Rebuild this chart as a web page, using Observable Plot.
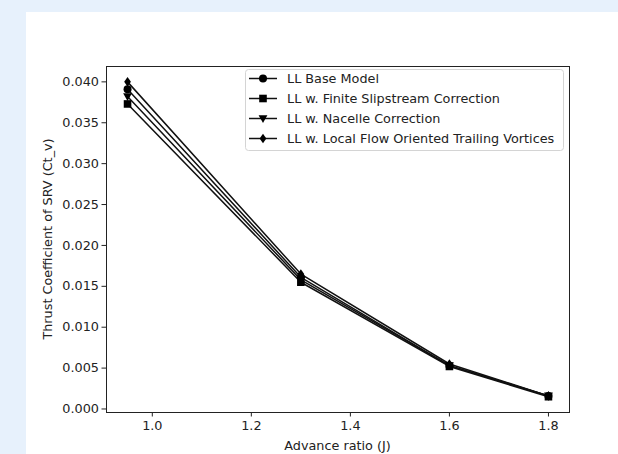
<!DOCTYPE html>
<html>
<head>
<meta charset="utf-8">
<script src="https://cdn.jsdelivr.net/npm/d3@7"></script>
<script src="https://cdn.jsdelivr.net/npm/@observablehq/plot@0.6"></script>
<style>
  html, body { margin: 0; padding: 0; }
  body { width: 618px; height: 454px; background: #e7f1fc; position: relative; overflow: hidden; font-family: "DejaVu Sans", sans-serif; }
  #panel { position: absolute; left: 26px; top: 12px; width: 592px; height: 442px; background: #ffffff; }
  #chart { position: absolute; left: 0; top: 0; }
</style>
</head>
<body>
<div id="panel"></div>
<div id="chart"></div>
<script>
// ---- data ----
const advanceRatio = [0.95, 1.3, 1.6, 1.8];
const llBase      = [0.0391, 0.0161, 0.0053, 0.0016];
const llFinite    = [0.0373, 0.0155, 0.0052, 0.0015];
const llNacelle   = [0.0382, 0.0158, 0.0053, 0.0016];
const llLocalFlow = [0.0400, 0.0165, 0.0055, 0.0016];
const seriesNames = [
  "LL Base Model",
  "LL w. Finite Slipstream Correction",
  "LL w. Nacelle Correction",
  "LL w. Local Flow Oriented Trailing Vortices"
];
const seriesValues = [llBase, llFinite, llNacelle, llLocalFlow];
const xTicks = [1.0, 1.2, 1.4, 1.6, 1.8];
const yTicks = [0, 0.005, 0.010, 0.015, 0.020, 0.025, 0.030, 0.035, 0.040];

// ---- symbols ----
const symCircle = { draw(ctx, size) { const r = Math.sqrt(size / Math.PI); ctx.moveTo(r, 0); ctx.arc(0, 0, r, 0, 2 * Math.PI); } };
const symSquare = { draw(ctx, size) { const r = Math.sqrt(size / Math.PI) * 0.95; ctx.rect(-r, -r, 2 * r, 2 * r); } };
const symTriDown = { draw(ctx, size) { const r = Math.sqrt(size / Math.PI) * 1.1; ctx.moveTo(-r, -r * 0.75); ctx.lineTo(r, -r * 0.75); ctx.lineTo(0, r * 1.0); ctx.closePath(); } };
const symThinDiamond = { draw(ctx, size) { const r = Math.sqrt(size / Math.PI) * 1.2; ctx.moveTo(0, -r); ctx.lineTo(r * 0.7, 0); ctx.lineTo(0, r); ctx.lineTo(-r * 0.7, 0); ctx.closePath(); } };
const symbols = [symCircle, symSquare, symTriDown, symThinDiamond];

const rows = [];
seriesNames.forEach((name, i) => {
  advanceRatio.forEach((j, k) => rows.push({ series: name, idx: i, J: j, ct: seriesValues[i][k] }));
});

const W = 618, H = 454;
const mL = 106, mR = 49, mT = 66, mB = 42;
const FS = 12.8;

const plot = Plot.plot({
  width: W,
  height: H,
  marginLeft: mL,
  marginRight: mR,
  marginTop: mT,
  marginBottom: mB,
  style: { background: "transparent", fontFamily: "DejaVu Sans, sans-serif", fontSize: FS + "px", color: "#222" },
  x: { domain: [0.9075, 1.8425], ticks: xTicks, tickFormat: d3.format(".1f"), label: null },
  y: { domain: [-0.00043, 0.04188], ticks: yTicks, tickFormat: d3.format(".3f"), label: null },
  marks: [
    Plot.axisX({ ticks: xTicks, tickFormat: d3.format(".1f"), tickSize: 4.5, tickPadding: 4, fontSize: FS, stroke: "#222", color: "#222", label: null }),
    Plot.axisY({ ticks: yTicks, tickFormat: d3.format(".3f"), tickSize: 4.5, tickPadding: 3, fontSize: FS, stroke: "#222", color: "#222", label: null }),
    ...seriesNames.map((name, i) =>
      Plot.line(rows.filter(d => d.idx === i), { x: "J", y: "ct", stroke: "#111", strokeWidth: 1.5 })
    ),
    ...seriesNames.map((name, i) =>
      Plot.dot(rows.filter(d => d.idx === i), { x: "J", y: "ct", symbol: () => symbols[i], r: 4, fill: "#000", stroke: "none" })
    ),
    Plot.frame({ stroke: "#222", strokeWidth: 1 })
  ]
});

document.getElementById("chart").appendChild(plot);

const svg = d3.select(plot);
// axis labels
svg.append("text")
  .attr("x", (mL + W - mR) / 2).attr("y", 450)
  .attr("text-anchor", "middle")
  .attr("font-family", "DejaVu Sans, sans-serif").attr("font-size", FS).attr("fill", "#222")
  .text("Advance ratio (J)");
svg.append("text")
  .attr("transform", `translate(52, ${(mT + H - mB) / 2}) rotate(-90)`)
  .attr("text-anchor", "middle")
  .attr("font-family", "DejaVu Sans, sans-serif").attr("font-size", FS).attr("fill", "#222")
  .text("Thrust Coefficient of SRV (Ct_v)");

// legend
const lg = svg.append("g").attr("text-anchor", "start");
lg.append("rect")
  .attr("x", 245.5).attr("y", 69.5).attr("width", 318).attr("height", 81).attr("rx", 3)
  .attr("fill", "#fff").attr("fill-opacity", 0.85).attr("stroke", "#d4d4d4").attr("stroke-width", 1);
seriesNames.forEach((name, i) => {
  const cy = 78.5 + i * 20;
  lg.append("line").attr("x1", 249).attr("x2", 277).attr("y1", cy).attr("y2", cy).attr("stroke", "#111").attr("stroke-width", 1.5);
  lg.append("path").attr("d", d3.symbol(symbols[i], Math.PI * 16)()).attr("transform", `translate(263, ${cy})`).attr("fill", "#000");
  lg.append("text").attr("x", 287).attr("y", cy).attr("dy", "0.35em").attr("text-anchor", "start")
    .attr("font-family", "DejaVu Sans, sans-serif").attr("font-size", FS).attr("fill", "#222")
    .text(name);
});
</script>
</body>
</html>
